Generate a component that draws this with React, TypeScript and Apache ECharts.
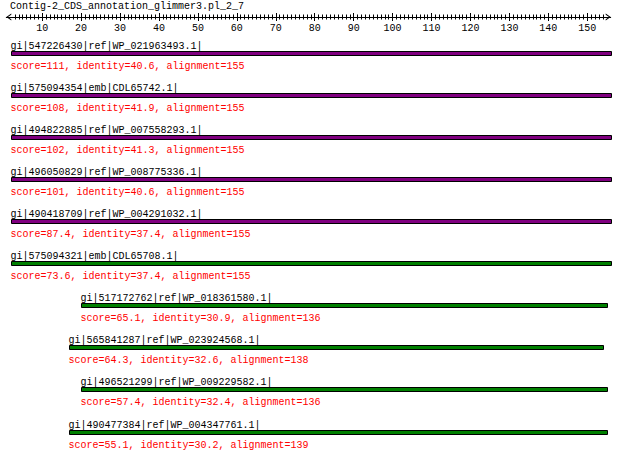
import React, { useEffect, useRef } from "react";
import * as echarts from "echarts";

const TITLE = "Contig-2_CDS_annotation_glimmer3.pl_2_7";
const hitIds = [
  "gi|547226430|ref|WP_021963493.1|",
  "gi|575094354|emb|CDL65742.1|",
  "gi|494822885|ref|WP_007558293.1|",
  "gi|496050829|ref|WP_008775336.1|",
  "gi|490418709|ref|WP_004291032.1|",
  "gi|575094321|emb|CDL65708.1|",
  "gi|517172762|ref|WP_018361580.1|",
  "gi|565841287|ref|WP_023924568.1|",
  "gi|496521299|ref|WP_009229582.1|",
  "gi|490477384|ref|WP_004347761.1|",
];
const scores = [111, 108, 102, 101, 87.4, 73.6, 65.1, 64.3, 57.4, 55.1];
const identities = [40.6, 41.9, 41.3, 40.6, 37.4, 37.4, 30.9, 32.6, 32.4, 30.2];
const alignments = [155, 155, 155, 155, 155, 155, 136, 138, 136, 139];
const qStarts = [2, 2, 2, 2, 2, 2, 20, 17, 20, 17];
const qEnds = [156, 156, 156, 156, 156, 156, 155, 154, 155, 155];

const FONT = "Liberation Mono";
const K = 3.894; // px per residue
const X0 = 3.2; // px of position 0

const colorFor = (s: number) => (s >= 80 ? "#800080" : "#008000");

export default function App() {
  const ref = useRef<HTMLDivElement>(null);
  useEffect(() => {
    document.body.style.margin = "0";
    const chart = echarts.init(ref.current!, null, { renderer: "svg" });
    const rowStep = 42.06;
    const yMin = -0.88;
    const yMax = 9.5;
    const tickAxisBase = {
      type: "value" as const,
      axisLine: { show: false },
      axisLabel: { show: false },
      splitLine: { show: false },
    };
    const option: any = {
      animation: false,
      backgroundColor: "#fff",
      title: {
        text: TITLE,
        left: 10,
        top: 1,
        padding: 0,
        textStyle: { fontFamily: FONT, fontSize: 10, fontWeight: "normal", color: "#000" },
      },
      grid: [
        { left: X0, top: 17, width: 156 * K, height: (yMax - yMin) * rowStep },
        { left: 6.3, top: 17, right: 9.3, height: 0 },
        { left: X0 + 3 * K, top: 17, width: 151 * K, height: 0 },
        { left: X0 + 10 * K, top: 17, width: 140 * K, height: 0 },
      ],
      xAxis: [
        { gridIndex: 0, type: "value", min: 0, max: 156, show: false },
        {
          gridIndex: 1,
          type: "value",
          min: 0,
          max: 1,
          position: "top",
          axisLine: {
            show: true,
            lineStyle: { color: "#000", width: 1 },
            symbol: ["path://M3.5,0 L7,5 L5.8,5 L3.5,1.7 L1.2,5 L0,5 Z", "path://M3.5,0 L7,5 L5.8,5 L3.5,1.7 L1.2,5 L0,5 Z"],
            symbolSize: [7, 5],
            symbolOffset: [2.5, -2.5],
          },
          axisTick: { show: false },
          axisLabel: { show: false },
          splitLine: { show: false },
        },
        {
          ...tickAxisBase,
          gridIndex: 2,
          position: "top",
          min: 3,
          max: 154,
          interval: 1,
          axisTick: { show: true, length: 2.5, lineStyle: { color: "#000", width: 1 } },
        },
        {
          ...tickAxisBase,
          gridIndex: 2,
          position: "bottom",
          min: 3,
          max: 154,
          interval: 1,
          axisTick: { show: true, length: 2.5, lineStyle: { color: "#000", width: 1 } },
        },
        {
          ...tickAxisBase,
          gridIndex: 3,
          position: "top",
          min: 10,
          max: 150,
          interval: 10,
          axisTick: { show: true, length: 4, lineStyle: { color: "#000", width: 1 } },
        },
        {
          ...tickAxisBase,
          gridIndex: 3,
          position: "bottom",
          min: 10,
          max: 150,
          interval: 10,
          axisTick: { show: true, length: 4, lineStyle: { color: "#000", width: 1 } },
          axisLabel: { show: true, margin: 6, fontFamily: FONT, fontSize: 10, color: "#000" },
        },
      ],
      yAxis: [
        { gridIndex: 0, type: "value", inverse: true, min: yMin, max: yMax, show: false },
        { gridIndex: 1, type: "value", min: 0, max: 1, show: false },
        { gridIndex: 2, type: "value", min: 0, max: 1, show: false },
        { gridIndex: 3, type: "value", min: 0, max: 1, show: false },
      ],
      series: [
        {
          type: "custom",
          xAxisIndex: 0,
          yAxisIndex: 0,
          encode: { x: [1, 2], y: 0 },
          data: hitIds.map((_, i) => [i, qStarts[i], qEnds[i]]),
          renderItem: (params: any, api: any) => {
            const i = api.value(0);
            const a = api.coord([api.value(1), i]);
            const b = api.coord([api.value(2), i]);
            const x0 = Math.round(a[0]) + 0.5;
            const x1 = Math.round(b[0]) + 0.5;
            const yc = Math.round(a[1]);
            const textBase = { fontFamily: FONT, fontSize: 10, align: "left", verticalAlign: "middle" };
            return {
              type: "group",
              children: [
                {
                  type: "rect",
                  shape: { x: x0, y: yc - 2.5, width: x1 - x0, height: 4 },
                  style: { fill: colorFor(scores[i]), stroke: "#000", lineWidth: 1 },
                },
                {
                  type: "text",
                  style: { ...textBase, text: hitIds[i], x: x0 - 1, y: yc - 7.5, fill: "#000" },
                },
                {
                  type: "text",
                  style: {
                    ...textBase,
                    text: `score=${scores[i]}, identity=${identities[i]}, alignment=${alignments[i]}`,
                    x: x0 - 1,
                    y: yc + 12,
                    fill: "#ff0000",
                  },
                },
              ],
            };
          },
        },
      ],
    };
    chart.setOption(option);
    return () => chart.dispose();
  }, []);
  return (
    <div
      ref={ref}
      style={{ position: "absolute", left: 0, top: 0, width: 620, height: 461 }}
    />
  );
}
